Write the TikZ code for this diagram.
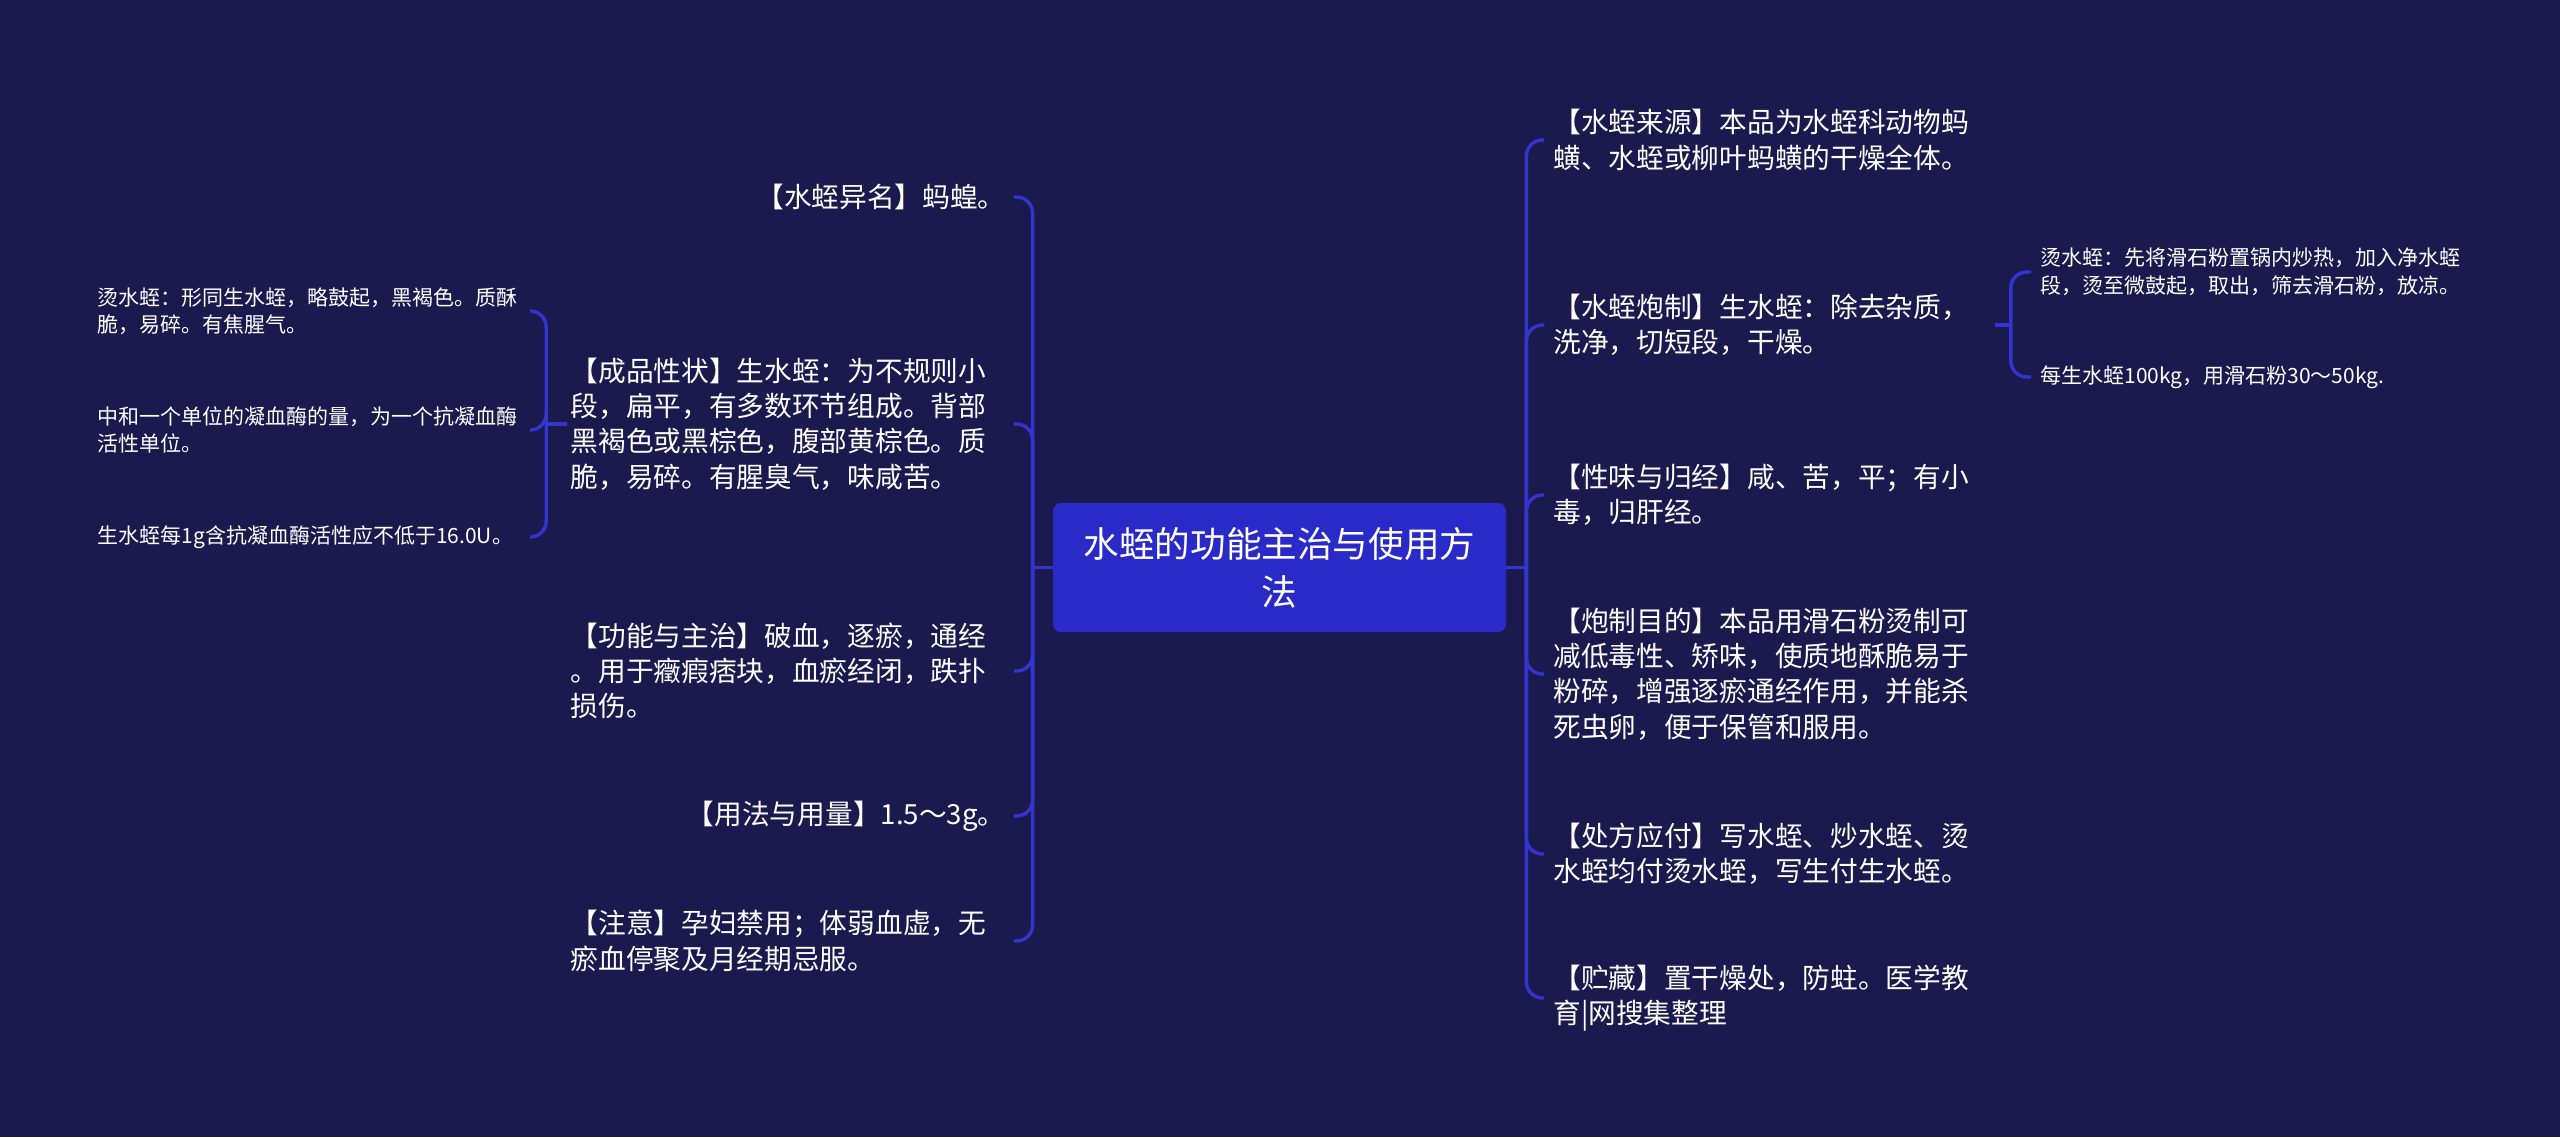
\documentclass[tikz,border=0pt]{standalone}
\usepackage{fontspec}
\setmainfont{Noto Sans CJK SC}
\definecolor{bgnavy}{HTML}{1B1A4F}
\definecolor{rootblue}{HTML}{2A2AC8}
\definecolor{linkblue}{HTML}{3434CE}
\begin{document}
\begin{tikzpicture}[x=0.5pt, y=-0.5pt,
        link/.style={draw=linkblue, line width=1.7pt, rounded corners=8pt},
        topic/.style={fill=rootblue, rounded corners=4pt, text=white, inner sep=0pt, minimum width=226.5pt, minimum height=64.5pt, align=center, font=\fontsize{17.8pt}{24pt}\selectfont},
        item/.style={text=white, inner sep=0pt, align=left, font=\fontsize{13.85pt}{17.65pt}\selectfont},
        itemleft/.style={item, anchor=east},
        itemright/.style={item, anchor=west, text width=217.5pt},
        sub/.style={text=white, inner sep=0pt, align=left, text width=212pt, font=\fontsize{10.5pt}{13.75pt}\selectfont},
        subleft/.style={sub, anchor=east},
        subright/.style={sub, anchor=west}]
        \fill[bgnavy] (0, 0) rectangle (2560, 1137);

        \node[topic] (root) at (1279.5, 567.5) {水蛭的功能主治与使用方\\法};

        \node[itemleft] (L1) at (1006, 197) {【水蛭异名】蚂蝗。};
        \node[itemleft, text width=217.5pt] (L2) at (1006, 424) {【成品性状】生水蛭：为不规则小\\段，扁平，有多数环节组成。背部\\黑褐色或黑棕色，腹部黄棕色。质\\脆，易碎。有腥臭气，味咸苦。};
        \node[itemleft, text width=217.5pt] (L3) at (1006, 671) {【功能与主治】破血，逐瘀，通经\\。用于癥瘕痞块，血瘀经闭，跌扑\\损伤。};
        \node[itemleft] (L4) at (1006, 816) {【用法与用量】1.5～3g。};
        \node[itemleft, text width=217.5pt] (L5) at (1006, 941) {【注意】孕妇禁用；体弱血虚，无\\瘀血停聚及月经期忌服。};

        \node[subleft] (LS1) at (522, 311) {烫水蛭：形同生水蛭，略鼓起，黑褐色。质酥\\脆，易碎。有焦腥气。};
        \node[subleft] (LS2) at (522, 430) {中和一个单位的凝血酶的量，为一个抗凝血酶\\活性单位。};
        \node[subleft] (LS3) at (522, 537) {生水蛭每1g含抗凝血酶活性应不低于16.0U。};

        \node[itemright] (R1) at (1553, 140) {【水蛭来源】本品为水蛭科动物蚂\\蟥、水蛭或柳叶蚂蟥的干燥全体。};
        \node[itemright] (R2) at (1553, 325) {【水蛭炮制】生水蛭：除去杂质，\\洗净，切短段，干燥。};
        \node[itemright] (R3) at (1553, 495) {【性味与归经】咸、苦，平；有小\\毒，归肝经。};
        \node[itemright] (R4) at (1553, 674) {【炮制目的】本品用滑石粉烫制可\\减低毒性、矫味，使质地酥脆易于\\粉碎，增强逐瘀通经作用，并能杀\\死虫卵，便于保管和服用。};
        \node[itemright] (R5) at (1553, 854) {【处方应付】写水蛭、炒水蛭、烫\\水蛭均付烫水蛭，写生付生水蛭。};
        \node[itemright] (R6) at (1553, 998) {【贮藏】置干燥处，防蛀。医学教\\育|网搜集整理};

        \node[subright] (RS1) at (2040, 272) {烫水蛭：先将滑石粉置锅内炒热，加入净水蛭\\段，烫至微鼓起，取出，筛去滑石粉，放凉。};
        \node[subright] (RS2) at (2040, 377) {每生水蛭100kg，用滑石粉30～50kg.};

        \coordinate (lt) at ([xshift=-10pt]root.west);
        \coordinate (rt) at ([xshift=10pt]root.east);
        \coordinate (lst) at ([xshift=-12pt]L2.west);
        \coordinate (rst) at ([xshift=11pt]R2.east);

        \draw[link] (root.west) -- (lt);
        \draw[link] (root.east) -- (rt);
        \foreach \n in {L1, L2, L3, L4, L5}
            \draw[link] (lt) |- ([xshift=4pt]\n.east);
        \foreach \n in {R1, R2, R3, R4, R5, R6}
            \draw[link] (rt) |- ([xshift=-4.5pt]\n.west);
        \draw[link] ([xshift=-1.5pt]L2.west) -- (lst);
        \foreach \n in {LS1, LS2, LS3}
            \draw[link] (lst) |- ([xshift=4pt]\n.east);
        \draw[link] ([xshift=3pt]R2.east) -- (rst);
        \foreach \n in {RS1, RS2}
            \draw[link] (rst) |- ([xshift=-4.5pt]\n.west);
\end{tikzpicture}
\end{document}
